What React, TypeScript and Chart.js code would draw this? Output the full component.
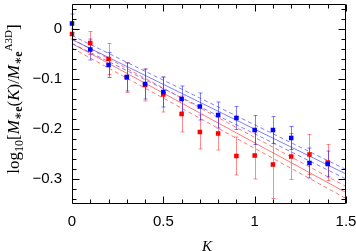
import React, { useEffect, useRef } from 'react';
import { Chart, registerables } from 'chart.js';
Chart.register(...registerables);

// ---- data ----
const kValues = [0, 0.1, 0.2, 0.3, 0.4, 0.5, 0.6, 0.7, 0.8, 0.9, 1.0, 1.1, 1.2, 1.3, 1.4];
const blueValues = [0.011, -0.041, -0.072, -0.096, -0.110, -0.126, -0.140, -0.155, -0.172, -0.178, -0.202, -0.202, -0.218, -0.268, -0.270];
const blueErrors = [0.019, 0.021, 0.025, 0.028, 0.030, 0.030, 0.026, 0.027, 0.026, 0.023, 0.029, 0.027, 0.023, 0.030, 0.026];
const redValues = [-0.010, -0.028, -0.060, -0.097, -0.112, -0.131, -0.170, -0.206, -0.209, -0.254, -0.253, -0.271, -0.255, -0.251, -0.267];
const redErrors = [0.010, 0.023, 0.031, 0.030, 0.032, 0.035, 0.036, 0.034, 0.033, 0.038, 0.047, 0.068, 0.046, 0.040, 0.036];

const fitK = [0, 1.5];
const blueFit = [-0.021, -0.290];
const blueFitUpper = [-0.013, -0.281];
const blueFitLower = [-0.029, -0.300];
const redFit = [-0.029, -0.327];
const redFitUpper = [-0.020, -0.315];
const redFitLower = [-0.038, -0.339];

const xMajorTicks = [0, 0.5, 1, 1.5];
const xMinorTicks = [0, 0.1, 0.2, 0.3, 0.4, 0.5, 0.6, 0.7, 0.8, 0.9, 1.0, 1.1, 1.2, 1.3, 1.4, 1.5];
const yMajorTicks = [0, -0.1, -0.2, -0.3];
const yMinorTicks = [0.04, 0.02, 0, -0.02, -0.04, -0.06, -0.08, -0.1, -0.12, -0.14, -0.16, -0.18, -0.2, -0.22, -0.24, -0.26, -0.28, -0.3, -0.32, -0.34];
const xTickLabels = ['0', '0.5', '1', '1.5'];
const yTickLabels = ['0', '\u22120.1', '\u22120.2', '\u22120.3'];

const xTitle = 'K';

const BLUE = 'rgb(0,0,255)';
const RED = 'rgb(255,0,0)';
const BLUE_LINE = 'rgba(40,40,255,0.6)';
const RED_LINE = 'rgba(255,30,30,0.6)';
const BLUE_ERR = 'rgba(0,0,255,0.5)';
const RED_ERR = 'rgba(255,0,0,0.45)';

const SERIF = '"Liberation Serif", "DejaVu Serif", serif';
const SANS = '"Liberation Sans", Arial, sans-serif';

const yTitlePieces = [
  { t: 'log', f: `17px ${SERIF}`, dy: 0 },
  { t: '10', f: `12px ${SERIF}`, dy: 4 },
  { t: '[', f: `17px ${SERIF}`, dy: 0 },
  { t: 'M', f: `italic 17px ${SERIF}`, dy: 0 },
  { t: '\u2217e', f: `bold 12px ${SERIF}`, dy: 3 },
  { t: '(', f: `17px ${SERIF}`, dy: 0 },
  { t: 'K', f: `italic 17px ${SERIF}`, dy: 0 },
  { t: ')', f: `17px ${SERIF}`, dy: 0 },
  { t: '/', f: `17px ${SERIF}`, dy: 0 },
  { t: 'M', f: `italic 17px ${SERIF}`, dy: 0 },
  { t: '\u2217e', f: `bold 12px ${SERIF}`, dy: 3 },
  { t: 'A3D', f: `11px ${SERIF}`, dy: -7 },
  { t: ']', f: `17px ${SERIF}`, dy: 0 },
];

const zeroPad = (s: any) => {
  s.paddingTop = 0;
  s.paddingBottom = 0;
  s.paddingLeft = 0;
  s.paddingRight = 0;
};

const decorPlugin = {
  id: 'decor',
  beforeDatasetsDraw(chart: any) {
    const { ctx } = chart;
    const xs = chart.scales.x;
    const ys = chart.scales.y;
    const drawErr = (vals: number[], errs: number[], color: string) => {
      ctx.save();
      ctx.strokeStyle = color;
      ctx.lineWidth = 1;
      ctx.beginPath();
      kValues.forEach((k, i) => {
        const px = Math.round(xs.getPixelForValue(k)) + 0.5;
        const top = ys.getPixelForValue(vals[i] + errs[i]);
        const bot = ys.getPixelForValue(vals[i] - errs[i]);
        ctx.moveTo(px, top);
        ctx.lineTo(px, bot);
        ctx.moveTo(px - 2, top);
        ctx.lineTo(px + 2, top);
        ctx.moveTo(px - 2, bot);
        ctx.lineTo(px + 2, bot);
      });
      ctx.stroke();
      ctx.restore();
    };
    drawErr(redValues, redErrors, RED_ERR);
    drawErr(blueValues, blueErrors, BLUE_ERR);
  },
  afterDraw(chart: any) {
    const { ctx, chartArea } = chart;
    const xs = chart.scales.x;
    const ys = chart.scales.y;
    const L = chartArea.left + 0.5;
    const R = chartArea.right - 0.5;
    const T = chartArea.top + 0.5;
    const B = chartArea.bottom - 0.5;
    ctx.save();
    ctx.strokeStyle = '#000';
    ctx.lineWidth = 1;
    ctx.beginPath();
    ctx.rect(L, T, R - L, B - T);
    xMinorTicks.forEach((v) => {
      const len = xMajorTicks.some((m) => Math.abs(m - v) < 1e-9) ? 7 : 4;
      const px = Math.round(xs.getPixelForValue(v)) + 0.5;
      ctx.moveTo(px, B);
      ctx.lineTo(px, B - len);
      ctx.moveTo(px, T);
      ctx.lineTo(px, T + len);
    });
    yMinorTicks.forEach((v) => {
      const len = yMajorTicks.some((m) => Math.abs(m - v) < 1e-9) ? 7 : 4;
      const py = Math.round(ys.getPixelForValue(v)) + 0.5;
      ctx.moveTo(L, py);
      ctx.lineTo(L + len, py);
      ctx.moveTo(R, py);
      ctx.lineTo(R - len, py);
    });
    ctx.stroke();

    ctx.fillStyle = '#000';
    ctx.font = `italic 15px ${SERIF}`;
    ctx.textAlign = 'center';
    ctx.textBaseline = 'alphabetic';
    ctx.fillText(xTitle, 207, 251);

    ctx.textAlign = 'left';
    let total = 0;
    const widths = yTitlePieces.map((p) => {
      ctx.font = p.f;
      const w = ctx.measureText(p.t).width;
      total += w;
      return w;
    });
    ctx.translate(19, 99);
    ctx.rotate(-Math.PI / 2);
    let x = -total / 2;
    yTitlePieces.forEach((p, i) => {
      ctx.font = p.f;
      ctx.fillText(p.t, x, p.dy);
      x += widths[i];
    });
    ctx.restore();
  },
};

export default function App() {
  const ref = useRef<HTMLCanvasElement | null>(null);
  useEffect(() => {
    if (!ref.current) return;
    const toXY = (xs: number[], ys: number[]) => xs.map((x, i) => ({ x, y: ys[i] }));
    const lineDs = (ys: number[], color: string, dashed: boolean, order: number) => ({
      type: 'line',
      data: toXY(fitK, ys),
      borderColor: color,
      borderWidth: 1,
      borderDash: dashed ? [4, 3] : [],
      pointRadius: 0,
      showLine: true,
      fill: false,
      order,
    });
    const chart = new Chart(ref.current, {
      type: 'scatter',
      data: {
        datasets: [
          {
            data: toXY(kValues, blueValues),
            backgroundColor: BLUE,
            borderColor: BLUE,
            borderWidth: 0,
            pointStyle: 'rect',
            pointRadius: 3.2,
            clip: false,
            order: 0,
          },
          {
            data: toXY(kValues, redValues),
            backgroundColor: RED,
            borderColor: RED,
            borderWidth: 0,
            pointStyle: 'rect',
            pointRadius: 3.2,
            clip: false,
            order: 1,
          },
          lineDs(blueFit, BLUE_LINE, false, 2),
          lineDs(blueFitUpper, BLUE_LINE, true, 2),
          lineDs(blueFitLower, BLUE_LINE, true, 2),
          lineDs(redFit, RED_LINE, false, 3),
          lineDs(redFitUpper, RED_LINE, true, 3),
          lineDs(redFitLower, RED_LINE, true, 3),
        ] as any,
      },
      options: {
        animation: false,
        responsive: false,
        devicePixelRatio: 1,
        layout: { padding: { left: 0, right: 10, top: 2, bottom: 0 } },
        plugins: { legend: { display: false }, tooltip: { enabled: false } },
        scales: {
          x: {
            type: 'linear',
            min: 0,
            max: 1.5,
            grid: { display: false, drawTicks: false },
            border: { display: false },
            afterFit: (s: any) => { s.height = 47; zeroPad(s); },
            afterBuildTicks: (s: any) => { s.ticks = xMajorTicks.map((v) => ({ value: v })); },
            ticks: {
              color: '#000',
              font: { family: SANS, size: 15 },
              padding: 9,
              maxRotation: 0,
              autoSkip: false,
              callback: (_v: any, i: number) => xTickLabels[i],
            },
          },
          y: {
            type: 'linear',
            min: -0.35,
            max: 0.05,
            grid: { display: false, drawTicks: false },
            border: { display: false },
            afterFit: (s: any) => { s.width = 72; zeroPad(s); },
            afterBuildTicks: (s: any) => { s.ticks = yMajorTicks.map((v) => ({ value: v })); },
            ticks: {
              color: '#000',
              font: { family: SANS, size: 15 },
              padding: 10,
              autoSkip: false,
              callback: (_v: any, i: number) => yTickLabels[i],
            },
          },
        },
      } as any,
      plugins: [decorPlugin],
    });
    return () => chart.destroy();
  }, []);
  return (
    <div style={{ position: 'fixed', left: 0, top: 0, width: 356, height: 251, background: '#fff' }}>
      <canvas ref={ref} width={356} height={251} style={{ width: 356, height: 251, display: 'block' }} />
    </div>
  );
}
